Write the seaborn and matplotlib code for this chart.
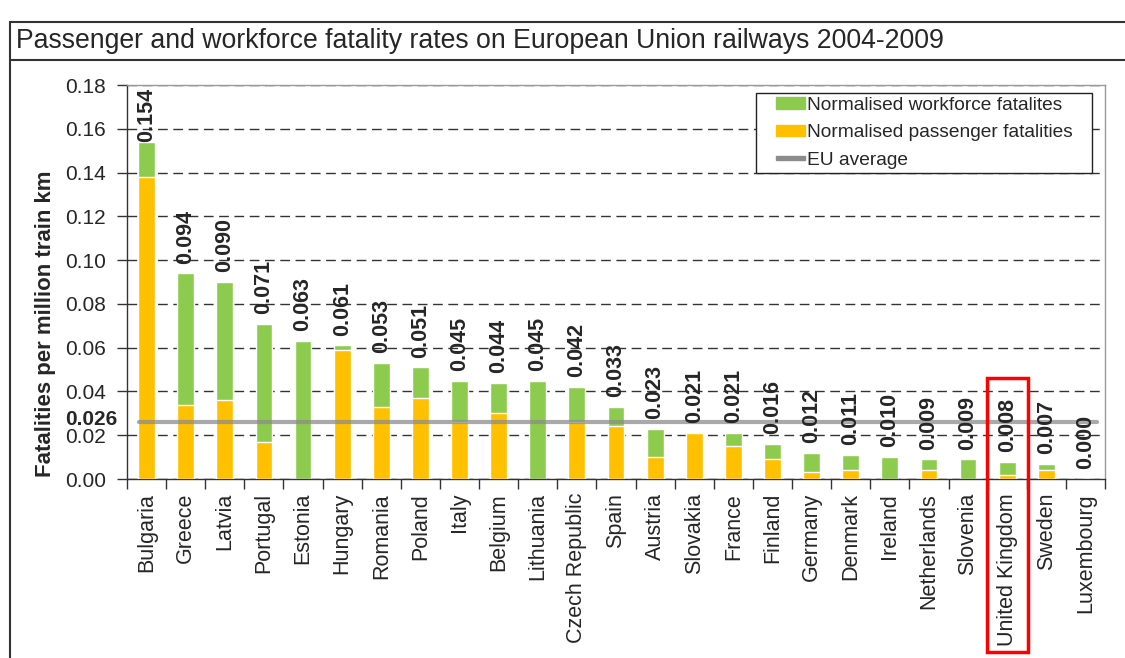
import numpy as np
import pandas as pd
import matplotlib
matplotlib.use('Agg')
import matplotlib.pyplot as plt
from matplotlib.patches import Patch, Rectangle
from matplotlib.legend_handler import HandlerPatch
from matplotlib.lines import Line2D
from matplotlib.transforms import offset_copy
import seaborn as sns

countries = ['Bulgaria', 'Greece', 'Latvia', 'Portugal', 'Estonia', 'Hungary', 'Romania',
             'Poland', 'Italy', 'Belgium', 'Lithuania', 'Czech Republic', 'Spain', 'Austria',
             'Slovakia', 'France', 'Finland', 'Germany', 'Denmark', 'Ireland', 'Netherlands',
             'Slovenia', 'United Kingdom', 'Sweden', 'Luxembourg']
total = [0.154, 0.094, 0.090, 0.071, 0.063, 0.061, 0.053, 0.051, 0.045, 0.044, 0.045, 0.042,
         0.033, 0.023, 0.021, 0.021, 0.016, 0.012, 0.011, 0.010, 0.009, 0.009, 0.008, 0.007, 0.000]
passenger = [0.138, 0.034, 0.036, 0.017, 0.000, 0.059, 0.033, 0.037, 0.026, 0.030, 0.000, 0.026,
             0.024, 0.010, 0.021, 0.015, 0.009, 0.003, 0.004, 0.000, 0.004, 0.000, 0.002, 0.004, 0.000]
eu_average = 0.026
highlight = 'United Kingdom'

green = '#8DCB4F'
orange = '#FFC000'
grey = '#8C8C8C'

sns.set_style('white')
plt.rcParams['font.family'] = ['Liberation Sans', 'DejaVu Sans']

df = pd.DataFrame({'country': countries, 'total': total, 'passenger': passenger})

fig = plt.figure(figsize=(11.25, 6.58), dpi=100)
ax = fig.add_axes([0.1129, 0.272, 0.8693, 0.5988])

# stacked look: total (green) behind, passenger (orange) in front
sns.barplot(data=df, x='country', y='total', color=green, saturation=1, width=0.43, ax=ax, zorder=2)
sns.barplot(data=df, x='country', y='passenger', color=orange, saturation=1, width=0.43, ax=ax, zorder=3)

n = len(countries)
ymax = 0.18
ax.plot([-0.2, n - 0.7], [eu_average, eu_average], color=grey, lw=3, alpha=0.75, zorder=4)

for i, v in enumerate(total):
    if v + 0.029 > ymax:
        # too tall: keep the label inside the plot area
        ax.annotate(f'{v:.3f}', (i, ymax - 0.0015), rotation=90, ha='center', va='top',
                    fontsize=15.5, fontweight='bold', zorder=5)
    else:
        ax.annotate(f'{v:.3f}', (i, v), xytext=(0, 7), textcoords='offset points',
                    rotation=90, ha='center', va='bottom', fontsize=15.5, fontweight='bold',
                    annotation_clip=False, zorder=5)

ax.set_xlim(-0.5, n - 0.5)
ax.set_ylim(0, ymax)
yt = np.arange(0, 0.181, 0.02)
ax.set_yticks(yt)
ax.set_yticklabels([f'{t:.2f}' for t in yt], fontsize=15)
ax.yaxis.grid(True, color='#333333', linestyle=(0, (7, 4)), lw=1)
ax.set_axisbelow(True)

ax.set_xticks(range(n))
ax.set_xticklabels(countries, rotation=90, fontsize=15.5)
ax.set_xticks(np.arange(-0.5, n, 1), minor=True)
ax.tick_params(axis='x', which='major', length=0, pad=10)
ax.tick_params(axis='x', which='minor', length=7, width=1, color='#333333', direction='out', bottom=True)
ax.tick_params(axis='y', length=7, width=1, color='#333333', direction='out', left=True, pad=8)

ax.set_xlabel('')
ax.set_ylabel('Fatalities per million train km', fontsize=16, fontweight='bold')
ax.yaxis.set_label_coords(-0.073, 0.393)

for side in ['left', 'bottom']:
    ax.spines[side].set_color('#333333')
    ax.spines[side].set_linewidth(1)
for side in ['top', 'right']:
    ax.spines[side].set_color('#999999')
    ax.spines[side].set_linewidth(1)

# EU average value beside the axis
ax.text(-0.0102, eu_average, f'{eu_average:.3f}',
        transform=offset_copy(ax.get_yaxis_transform(), fig=fig, y=3, units='dots'),
        ha='right', va='center', fontsize=15, fontweight='bold')


# legend keys drawn in the right part of the handle box, like the original
def key_patch(legend, orig_handle, xdescent, ydescent, width, height, fontsize):
    return Rectangle((-xdescent + width * 0.36, -ydescent), width * 0.64, height)


def key_line(legend, orig_handle, xdescent, ydescent, width, height, fontsize):
    return Rectangle((-xdescent + width * 0.36, -ydescent + height / 2 - 1.2), width * 0.64, 2.4)


handles = [Patch(color=green, label='Normalised workforce fatalites'),
           Patch(color=orange, label='Normalised passenger fatalities   '),
           Patch(color=grey, label='EU average')]
leg = ax.legend(handles=handles, loc='upper right', bbox_to_anchor=(0.987, 0.98),
                borderaxespad=0, fontsize=13.8, frameon=True, fancybox=False,
                edgecolor='#222222', framealpha=1, handlelength=2.36, handleheight=0.55,
                handletextpad=0.1, labelspacing=0.55, borderpad=0.2,
                handler_map={handles[0]: HandlerPatch(patch_func=key_patch),
                             handles[1]: HandlerPatch(patch_func=key_patch),
                             handles[2]: HandlerPatch(patch_func=key_line)})
leg.get_frame().set_linewidth(1)

# highlight box around the UK
ui = countries.index(highlight)
ax.add_patch(Rectangle((ui - 0.52, -0.079), 1.05, 0.125, fill=False, edgecolor='#FF0000',
                       lw=2.5, clip_on=False, zorder=6))

# outer frame and title box
fig.add_artist(Rectangle((0.009, -0.01), 1.1, 0.9666 + 0.01, fill=False, edgecolor='#333333',
                         lw=1.5, transform=fig.transFigure))
fig.add_artist(Line2D([0.009, 1.0], [0.909, 0.909], color='#333333', lw=1.5, transform=fig.transFigure))
fig.text(0.014, 0.937, 'Passenger and workforce fatality rates on European Union railways 2004-2009',
         ha='left', va='center', fontsize=19.2)

fig.savefig('out.png', dpi=100)
